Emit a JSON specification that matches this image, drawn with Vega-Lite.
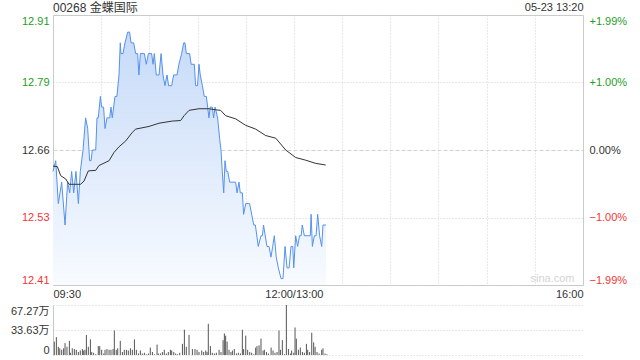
{
  "$schema": "https://vega.github.io/schema/vega-lite/v6.json",
  "background": "white",
  "padding": {"left": 10, "top": 0, "right": 5, "bottom": 0},
  "spacing": 4,
  "config": {
    "font": "Liberation Sans, Noto Sans CJK SC, sans-serif",
    "axis": {"labelFontSize": 11, "labelColor": "#333", "labelFont": "Liberation Sans, Noto Sans CJK SC, sans-serif"},
    "title": {"font": "Liberation Sans, Noto Sans CJK SC, sans-serif"}
  },
  "datasets": {
    "price": [
      {"t":0,"p":12.62},{"t":1.7,"p":12.64},{"t":3.3,"p":12.56},{"t":5.4,"p":12.60},{"t":7.5,"p":12.52},{"t":9.1,"p":12.60},{"t":10.4,"p":12.58},{"t":11.6,"p":12.62},{"t":12.9,"p":12.58},{"t":14.3,"p":12.62},{"t":15.8,"p":12.56},{"t":17,"p":12.62},{"t":18.7,"p":12.66},{"t":20.3,"p":12.72},{"t":21.6,"p":12.70},{"t":22.8,"p":12.64},{"t":23.7,"p":12.64},{"t":24.5,"p":12.66},{"t":26.6,"p":12.66},{"t":27.4,"p":12.72},{"t":28.2,"p":12.72},{"t":29.5,"p":12.76},{"t":30.3,"p":12.74},{"t":31.5,"p":12.74},{"t":32.4,"p":12.70},{"t":33.6,"p":12.72},{"t":35.3,"p":12.72},{"t":36.1,"p":12.74},{"t":36.9,"p":12.72},{"t":38.6,"p":12.76},{"t":39.8,"p":12.76},{"t":41.1,"p":12.80},{"t":41.9,"p":12.86},{"t":42.3,"p":12.84},{"t":43.6,"p":12.84},{"t":44.8,"p":12.86},{"t":46.5,"p":12.88},{"t":47.7,"p":12.88},{"t":48.6,"p":12.86},{"t":50.2,"p":12.86},{"t":51.5,"p":12.84},{"t":52.7,"p":12.84},{"t":53.5,"p":12.80},{"t":54.4,"p":12.84},{"t":56.9,"p":12.84},{"t":58.1,"p":12.82},{"t":59.4,"p":12.84},{"t":61.4,"p":12.84},{"t":62.3,"p":12.82},{"t":63.1,"p":12.84},{"t":64.3,"p":12.80},{"t":66,"p":12.80},{"t":67.3,"p":12.84},{"t":68.5,"p":12.80},{"t":69.7,"p":12.78},{"t":71,"p":12.80},{"t":72,"p":12.78},{"t":73.9,"p":12.78},{"t":75.1,"p":12.80},{"t":77.2,"p":12.80},{"t":78.4,"p":12.82},{"t":80.1,"p":12.84},{"t":81.4,"p":12.86},{"t":82.2,"p":12.86},{"t":83,"p":12.84},{"t":85.1,"p":12.84},{"t":86,"p":12.82},{"t":88,"p":12.82},{"t":88.8,"p":12.78},{"t":90,"p":12.78},{"t":90.9,"p":12.82},{"t":91.7,"p":12.80},{"t":93,"p":12.78},{"t":94.2,"p":12.76},{"t":95.5,"p":12.76},{"t":96.3,"p":12.74},{"t":97.1,"p":12.72},{"t":97.9,"p":12.74},{"t":99.2,"p":12.74},{"t":100,"p":12.72},{"t":100.9,"p":12.74},{"t":102.5,"p":12.72},{"t":103.8,"p":12.68},{"t":104.6,"p":12.66},{"t":105.4,"p":12.62},{"t":106.3,"p":12.58},{"t":107.1,"p":12.64},{"t":107.9,"p":12.62},{"t":108.8,"p":12.62},{"t":110,"p":12.60},{"t":112.1,"p":12.60},{"t":113.7,"p":12.60},{"t":114.6,"p":12.58},{"t":115.8,"p":12.60},{"t":116.6,"p":12.58},{"t":117.9,"p":12.58},{"t":118.7,"p":12.54},{"t":120,"p":12.56},{"t":121.6,"p":12.56},{"t":122.4,"p":12.56},{"t":123.7,"p":12.54},{"t":125,"p":12.52},{"t":126,"p":12.52},{"t":127.8,"p":12.48},{"t":129.5,"p":12.50},{"t":130.4,"p":12.50},{"t":131.1,"p":12.52},{"t":133.2,"p":12.48},{"t":134.5,"p":12.48},{"t":135.7,"p":12.46},{"t":136.8,"p":12.48},{"t":137.8,"p":12.50},{"t":139,"p":12.46},{"t":140.3,"p":12.44},{"t":142,"p":12.42},{"t":143.2,"p":12.42},{"t":144.5,"p":12.48},{"t":145.7,"p":12.44},{"t":147,"p":12.44},{"t":148.2,"p":12.48},{"t":149.3,"p":12.48},{"t":149.9,"p":12.44},{"t":151.1,"p":12.50},{"t":152.3,"p":12.48},{"t":153.5,"p":12.50},{"t":154.5,"p":12.50},{"t":155.2,"p":12.52},{"t":156.5,"p":12.50},{"t":159,"p":12.50},{"t":160.2,"p":12.50},{"t":160.7,"p":12.54},{"t":161.5,"p":12.48},{"t":162.7,"p":12.50},{"t":163.8,"p":12.50},{"t":164.8,"p":12.54},{"t":166,"p":12.50},{"t":167.3,"p":12.48},{"t":168.1,"p":12.52},{"t":170,"p":12.52}
    ],
    "avg": [
      {"t":0,"a":12.63},{"t":2.7,"a":12.629},{"t":4.8,"a":12.612},{"t":7.9,"a":12.606},{"t":10,"a":12.596},{"t":17.2,"a":12.596},{"t":19.3,"a":12.602},{"t":22,"a":12.621},{"t":26.6,"a":12.622},{"t":28.6,"a":12.631},{"t":34.9,"a":12.640},{"t":38,"a":12.6555},{"t":41.1,"a":12.666},{"t":45.3,"a":12.677},{"t":49.4,"a":12.693},{"t":51.5,"a":12.699},{"t":59.8,"a":12.704},{"t":66,"a":12.710},{"t":74.3,"a":12.714},{"t":79.5,"a":12.715},{"t":81.6,"a":12.724},{"t":84.7,"a":12.734},{"t":90.9,"a":12.737},{"t":97.1,"a":12.737},{"t":101.3,"a":12.735},{"t":104.4,"a":12.734},{"t":107.5,"a":12.724},{"t":113.8,"a":12.718},{"t":120,"a":12.706},{"t":126.2,"a":12.699},{"t":132.4,"a":12.687},{"t":138.7,"a":12.682},{"t":144.9,"a":12.66},{"t":151.1,"a":12.646},{"t":157.3,"a":12.641},{"t":163.6,"a":12.635},{"t":169.8,"a":12.632}
    ],
    "vol": [
      {"t":0.8,"v":18},{"t":2.1,"v":24},{"t":3.3,"v":11},{"t":4.2,"v":9},{"t":5.4,"v":7},{"t":6.6,"v":9},{"t":7.5,"v":16},{"t":8.7,"v":11},{"t":10.2,"v":19},{"t":10.8,"v":3},{"t":12,"v":9},{"t":13.3,"v":8},{"t":14.5,"v":7},{"t":15.8,"v":4},{"t":17,"v":6},{"t":18.3,"v":8},{"t":19.1,"v":6},{"t":19.9,"v":7},{"t":20.8,"v":27},{"t":22,"v":11},{"t":23.3,"v":21},{"t":24.1,"v":4},{"t":25.3,"v":3},{"t":26.6,"v":1},{"t":28.2,"v":12},{"t":29.1,"v":12},{"t":30.3,"v":7},{"t":31.6,"v":2},{"t":32.4,"v":7},{"t":33.6,"v":8},{"t":34.9,"v":7},{"t":36.1,"v":7},{"t":37.4,"v":8},{"t":38.2,"v":33},{"t":39.4,"v":7},{"t":40.3,"v":9},{"t":41.9,"v":19},{"t":43.2,"v":4},{"t":44.4,"v":7},{"t":45.7,"v":7},{"t":46.9,"v":6},{"t":48.2,"v":9},{"t":49.4,"v":7},{"t":50.7,"v":21},{"t":51.9,"v":7},{"t":53.2,"v":2},{"t":54.4,"v":6},{"t":55.6,"v":2},{"t":56.9,"v":3},{"t":58.1,"v":1},{"t":59.4,"v":2},{"t":60.6,"v":10},{"t":61.9,"v":4},{"t":63.1,"v":1},{"t":64.8,"v":14},{"t":65.6,"v":2},{"t":66.9,"v":2},{"t":68.1,"v":4},{"t":69.3,"v":7},{"t":70.6,"v":2},{"t":71.8,"v":4},{"t":73.1,"v":7},{"t":73.9,"v":6},{"t":75.2,"v":4},{"t":76.4,"v":2},{"t":77.6,"v":1},{"t":78.9,"v":3},{"t":80.6,"v":15},{"t":81.8,"v":34},{"t":83,"v":11},{"t":84.7,"v":27},{"t":86.8,"v":8},{"t":88.4,"v":8},{"t":89.7,"v":7},{"t":90.9,"v":4},{"t":92.6,"v":6},{"t":93.8,"v":4},{"t":95.1,"v":6},{"t":95.9,"v":4},{"t":96.7,"v":42},{"t":98,"v":12},{"t":99.2,"v":3},{"t":100.5,"v":2},{"t":101.7,"v":3},{"t":103.4,"v":7},{"t":104.6,"v":4},{"t":105.9,"v":20},{"t":106.7,"v":29},{"t":107.5,"v":26},{"t":108.4,"v":18},{"t":109.6,"v":7},{"t":110.8,"v":4},{"t":111.7,"v":6},{"t":112.9,"v":8},{"t":114.2,"v":2},{"t":115.4,"v":3},{"t":116.7,"v":2},{"t":117.9,"v":34},{"t":118.7,"v":8},{"t":120,"v":26},{"t":121.2,"v":7},{"t":122.5,"v":4},{"t":123.7,"v":3},{"t":125,"v":1},{"t":126.2,"v":10},{"t":127,"v":12},{"t":128.3,"v":13},{"t":129.5,"v":22},{"t":130.8,"v":6},{"t":131.6,"v":7},{"t":132.9,"v":4},{"t":134.1,"v":2},{"t":135.8,"v":10},{"t":137,"v":6},{"t":138.2,"v":3},{"t":139.5,"v":4},{"t":140.7,"v":33},{"t":141.6,"v":7},{"t":142.8,"v":20},{"t":144.1,"v":1},{"t":145.3,"v":67.27},{"t":146.6,"v":8},{"t":147.8,"v":2},{"t":148.6,"v":6},{"t":149.9,"v":3},{"t":150.7,"v":37},{"t":151.5,"v":22},{"t":152.8,"v":7},{"t":154,"v":10},{"t":155.3,"v":4},{"t":156.5,"v":3},{"t":157.8,"v":15},{"t":158.6,"v":7},{"t":159.8,"v":4},{"t":161.1,"v":30},{"t":162.3,"v":17},{"t":163.2,"v":11},{"t":164.4,"v":4},{"t":165.7,"v":2},{"t":167.3,"v":7},{"t":168.1,"v":9},{"t":169.4,"v":2},{"t":170.6,"v":1}
    ],
    "pct": [{"q":-1.99},{"q":-1},{"q":0},{"q":1},{"q":1.99}]
  },
  "vconcat": [
    {
      "width": 530,
      "height": 270,
      "view": {"stroke": "#c8c8c8"},
      "title": {"text": "00268 金蝶国际", "anchor": "start", "frame": "group", "fontSize": 12, "fontWeight": "normal", "color": "#333", "offset": -14},
      "layer": [
        {
          "layer": [
            {
              "data": {"name": "price"},
              "mark": {"type": "area", "interpolate": "linear", "fill": {"gradient": "linear", "x1": 0, "y1": 0, "x2": 0, "y2": 1, "stops": [{"offset": 0, "color": "#c6daf8"}, {"offset": 1, "color": "#f8fbff"}]}},
              "encoding": {
                "x": {"field": "t", "type": "quantitative", "scale": {"domain": [0, 330], "nice": false},
                  "axis": {"values": [0,30,60,90,120,150,180,210,240,270,300,330], "title": null, "ticks": false, "domain": false, "labelFlush": true, "labelPadding": 3, "labelExpr": "datum.value == 0 ? '09:30' : datum.value == 150 ? '12:00/13:00' : datum.value == 330 ? '16:00' : ''", "grid": true, "gridColor": "#d0d0d0", "gridDash": [1, 2]}},
                "y": {"field": "p", "type": "quantitative", "scale": {"domain": [12.40806, 12.91194], "nice": false, "zero": false},
                  "axis": {"values": [12.40806, 12.5334, 12.66, 12.7866, 12.91194], "format": ".2f", "title": null, "ticks": false, "domain": false, "labelFlush": true, "labelPadding": 4, "grid": true, "gridColor": "#d0d0d0",
                    "gridDash": {"condition": {"test": "abs(datum.value - 12.66) < 0.001", "value": [4, 2]}, "value": [1, 2]},
                    "labelColor": {"condition": [{"test": "datum.value > 12.661", "value": "#1f9d1f"}, {"test": "datum.value < 12.659", "value": "#f23535"}], "value": "#333333"}}},
                "y2": {"datum": 12.40806}
              }
            },
            {
              "data": {"name": "price"},
              "mark": {"type": "line", "color": "#5591ee", "strokeWidth": 1, "interpolate": "linear"},
              "encoding": {
                "x": {"field": "t", "type": "quantitative", "axis": null},
                "y": {"field": "p", "type": "quantitative"}
              }
            },
            {
              "data": {"name": "avg"},
              "mark": {"type": "line", "color": "#333333", "strokeWidth": 1},
              "encoding": {
                "x": {"field": "t", "type": "quantitative", "axis": null},
                "y": {"field": "a", "type": "quantitative"}
              }
            },
            {
              "data": {"values": [{"w": "sina.com"}]},
              "mark": {"type": "text", "color": "#d4d4d4", "fontSize": 11, "align": "center", "baseline": "middle"},
              "encoding": {
                "x": {"datum": 311, "type": "quantitative", "axis": null},
                "y": {"datum": 12.419, "type": "quantitative"},
                "text": {"field": "w"}
              }
            },
            {
              "data": {"name": "price"},
              "mark": {"type": "point", "opacity": 0},
              "encoding": {
                "x": {"field": "t", "type": "quantitative",
                  "axis": {"orient": "top", "title": "05-23 13:20", "labels": false, "ticks": false, "domain": false, "grid": false, "titleAnchor": "end", "titleFontSize": 11, "titleFontWeight": "normal", "titleColor": "#333", "titlePadding": 3}},
                "y": {"field": "p", "type": "quantitative"}
              }
            }
          ],
          "resolve": {"axis": {"x": "independent"}}
        },
        {
          "data": {"name": "pct"},
          "mark": {"type": "point", "opacity": 0},
          "encoding": {
            "y": {"field": "q", "type": "quantitative", "scale": {"domain": [-1.99, 1.99], "nice": false, "zero": false},
              "axis": {"orient": "right", "values": [-1.99, -1, 0, 1, 1.99], "title": null, "ticks": false, "domain": false, "grid": false, "labelFlush": true, "labelPadding": 6,
                "labelExpr": "datum.value > 0 ? '+' + format(datum.value, '.2f') + '%' : format(datum.value, '.2f') + '%'",
                "labelColor": {"condition": [{"test": "datum.value > 0", "value": "#1f9d1f"}, {"test": "datum.value < 0", "value": "#f23535"}], "value": "#333333"}}}
          }
        }
      ],
      "resolve": {"scale": {"y": "independent"}}
    },
    {
      "width": 530,
      "height": 50,
      "view": {"stroke": null},
      "data": {"name": "vol"},
      "mark": {"type": "rule", "color": "#555555", "strokeWidth": 1},
      "encoding": {
        "x": {"field": "t", "type": "quantitative", "scale": {"domain": [0, 330], "nice": false}, "axis": null},
        "y": {"field": "v", "type": "quantitative", "scale": {"domain": [0, 67.27], "nice": false},
          "axis": {"values": [0, 33.635, 67.27], "title": null, "ticks": false, "domain": true, "domainColor": "#c8c8c8", "labelFlush": true, "labelPadding": 4, "grid": true, "gridColor": "#d0d0d0", "gridDash": [1, 2],
            "labelExpr": "datum.value == 0 ? '0' : datum.value > 50 ? '67.27万' : '33.63万'"}},
        "y2": {"datum": 0}
      }
    }
  ]
}
